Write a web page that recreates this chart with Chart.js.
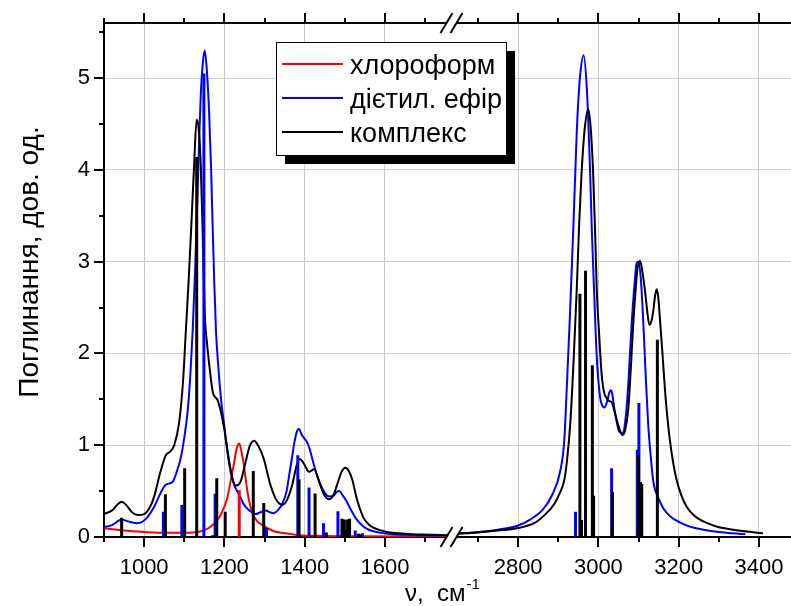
<!DOCTYPE html>
<html>
<head>
<meta charset="utf-8">
<script src="https://cdn.jsdelivr.net/npm/chart.js@4.4.1/dist/chart.umd.min.js"></script>
<style>
  html, body { margin: 0; padding: 0; background: #fff; }
  canvas { display: block; }
</style>
</head>
<body>
<canvas id="chart" width="791" height="606"></canvas>
<script>
// the x axis is broken: everything between BREAK_FROM and BREAK_FROM + BREAK_SHIFT is cut out
const BREAK_FROM = 1766;
const BREAK_SHIFT = 868;
const toAxis = v => (v > BREAK_FROM ? v - BREAK_SHIFT : v);

const xTickLabels = [1000, 1200, 1400, 1600, 2800, 3000, 3200, 3400];
const xMinorTicks = [900, 1100, 1300, 1500, 1700, 2700, 2900, 3100, 3300];
const yTickLabels = [0, 1, 2, 3, 4, 5];
const yMinorTicks = [0.5, 1.5, 2.5, 3.5, 4.5, 5.5];

const seriesNames = ['хлороформ', 'дієтил. ефір', 'комплекс'];
const seriesColors = ['#ff0000', '#0000ff', '#000000'];

// band contours (wavenumber, cm-1 / absorbance)
const chloroformNu = [900, 950, 1000, 1050, 1100, 1140, 1160, 1183, 1200, 1208, 1216, 1224, 1231, 1237, 1243, 1249, 1258, 1265, 1270, 1282, 1295, 1310, 1328, 1360, 1386, 1450, 1550, 1760,
  2645, 3000, 3480];
const chloroformA = [0.095, 0.07, 0.055, 0.045, 0.045, 0.06, 0.095, 0.185, 0.33, 0.44, 0.62, 0.8, 0.97, 1.02, 0.92, 0.77, 0.48, 0.33, 0.26, 0.17, 0.13, 0.09, 0.058, 0.035, 0.02, 0.012, 0.008, 0.005,
  0.005, 0.004, 0.003];

const etherNu = [900, 920, 944, 960, 984, 1005, 1025, 1040, 1054, 1071, 1082, 1092, 1100, 1108, 1115, 1121, 1127, 1133, 1137, 1141, 1146, 1151, 1156, 1162, 1167, 1171, 1175, 1179, 1185, 1191, 1200, 1208, 1216, 1224, 1237, 1249, 1262, 1278, 1290, 1303, 1313, 1323, 1335, 1345, 1355, 1361, 1368, 1374, 1380, 1386, 1392, 1399, 1405, 1411, 1418, 1424, 1434, 1444, 1452, 1461, 1472, 1480, 1486, 1494, 1503, 1515, 1528, 1545, 1561, 1590, 1619, 1680, 1740,
  2645, 2700, 2750, 2797, 2830, 2862, 2885, 2904, 2915, 2921, 2929, 2938, 2946, 2950, 2955, 2963, 2971, 2979, 2984, 2990, 2996, 3004, 3010, 3015, 3022, 3027, 3031, 3035, 3039, 3045, 3050, 3060, 3068, 3075, 3083, 3090, 3095, 3100, 3106, 3112, 3118, 3124, 3130, 3137, 3150, 3162, 3180, 3203, 3230, 3262, 3300, 3366];
const etherA = [0.11, 0.13, 0.19, 0.17, 0.15, 0.2, 0.33, 0.47, 0.57, 0.6, 0.72, 0.875, 1.08, 1.35, 1.75, 2.25, 2.9, 3.71, 4.3, 4.8, 5.15, 5.3, 5.1, 4.62, 4.0, 3.34, 2.75, 2.25, 1.85, 1.53, 1.2, 0.91, 0.7, 0.57, 0.46, 0.35, 0.29, 0.25, 0.27, 0.29, 0.27, 0.26, 0.3, 0.37, 0.5, 0.66, 0.85, 1.02, 1.14, 1.18, 1.12, 1.075, 1.04, 0.98, 0.87, 0.77, 0.63, 0.53, 0.47, 0.44, 0.45, 0.49, 0.5, 0.46, 0.4, 0.3, 0.2, 0.12, 0.076, 0.045, 0.03, 0.02, 0.015,
  0.035, 0.055, 0.08, 0.12, 0.19, 0.3, 0.46, 0.7, 1.05, 1.6, 2.4, 3.42, 4.4, 4.75, 5.05, 5.25, 4.9, 4.03, 3.3, 2.6, 1.96, 1.53, 1.43, 1.41, 1.48, 1.57, 1.6, 1.55, 1.42, 1.27, 1.17, 1.13, 1.3, 1.7, 2.33, 2.75, 2.98, 3.0, 2.8, 2.33, 1.75, 1.24, 0.9, 0.6, 0.42, 0.31, 0.22, 0.16, 0.11, 0.08, 0.055, 0.03];

const complexNu = [900, 920, 935, 944, 955, 970, 984, 1000, 1015, 1025, 1040, 1054, 1065, 1075, 1087, 1097, 1104, 1111, 1117, 1124, 1131, 1136, 1141, 1146, 1151, 1157, 1162, 1171, 1183, 1192, 1200, 1210, 1220, 1229, 1240, 1252, 1263, 1274, 1285, 1299, 1308, 1316, 1330, 1345, 1358, 1370, 1380, 1388, 1398, 1411, 1424, 1432, 1440, 1450, 1461, 1472, 1482, 1492, 1501, 1510, 1519, 1528, 1536, 1548, 1561, 1580, 1602, 1635, 1669, 1710, 1760,
  2645, 2700, 2750, 2797, 2840, 2871, 2890, 2904, 2915, 2922, 2930, 2938, 2946, 2952, 2958, 2966, 2975, 2981, 2987, 2992, 2996, 3002, 3008, 3014, 3021, 3027, 3033, 3040, 3046, 3053, 3060, 3067, 3075, 3081, 3087, 3093, 3097, 3104, 3110, 3116, 3122, 3127, 3132, 3137, 3141, 3145, 3149, 3153, 3160, 3166, 3172, 3178, 3186, 3195, 3207, 3220, 3237, 3253, 3275, 3294, 3350, 3410];
const complexA = [0.25, 0.29, 0.36, 0.385, 0.35, 0.27, 0.24, 0.25, 0.33, 0.44, 0.7, 0.89, 0.93, 1.0, 1.24, 1.7, 2.25, 2.8, 3.34, 4.0, 4.55, 4.45, 4.07, 3.3, 2.44, 2.1, 1.89, 1.58, 1.49, 1.35, 1.17, 0.88, 0.64, 0.56, 0.6, 0.8, 0.99, 1.05, 0.99, 0.84, 0.68, 0.55, 0.4, 0.35, 0.42, 0.585, 0.78, 0.85, 0.8, 0.71, 0.74, 0.66, 0.55, 0.45, 0.41, 0.46, 0.585, 0.71, 0.755, 0.72, 0.62, 0.45, 0.33, 0.2, 0.13, 0.085, 0.058, 0.04, 0.03, 0.025, 0.02,
  0.035, 0.05, 0.07, 0.095, 0.15, 0.26, 0.36, 0.48, 0.62, 0.84, 1.24, 1.9, 2.69, 3.4, 3.96, 4.45, 4.66, 4.45, 3.96, 3.3, 2.69, 2.2, 1.78, 1.58, 1.51, 1.48, 1.47, 1.37, 1.27, 1.17, 1.11, 1.17, 1.42, 1.85, 2.33, 2.7, 2.91, 3.01, 2.88, 2.69, 2.45, 2.31, 2.35, 2.47, 2.62, 2.7, 2.62, 2.4, 1.98, 1.6, 1.3, 1.06, 0.82, 0.62, 0.45, 0.33, 0.24, 0.19, 0.145, 0.115, 0.07, 0.04];

// calculated line positions and intensities
const chloroformLineNu = [1237];
const chloroformLineA = [0.51];
const etherLineNu = [1048, 1094, 1149, 1177, 1305, 1383, 1411, 1447, 1483, 1503, 1526, 1544, 2943, 3033, 3097, 3101];
const etherLineA = [0.275, 0.35, 5.05, 0.47, 0.1, 0.89, 0.54, 0.15, 0.28, 0.076, 0.07, 0.04, 0.275, 0.75, 0.95, 1.46];
const complexLineNu = [944, 1053, 1101, 1131, 1171, 1181, 1202, 1272, 1298, 1386, 1426, 1454, 1493, 1499, 1507, 1512, 1534, 1539, 2954, 2958, 2968, 2985, 2988, 3035, 3100, 3105, 3108, 3147];
const complexLineA = [0.21, 0.465, 0.75, 4.14, 0.02, 0.64, 0.275, 0.72, 0.37, 0.63, 0.475, 0.05, 0.2, 0.19, 0.19, 0.2, 0.035, 0.03, 2.65, 0.185, 2.9, 1.87, 0.45, 0.49, 0.89, 0.6, 0.58, 2.15];

function contour(nu, a) {
  const pts = [];
  nu.forEach((v, i) => {
    if (i > 0 && v - nu[i - 1] > 300) pts.push({ x: BREAK_FROM + 1, y: null });
    pts.push({ x: toAxis(v), y: a[i] });
  });
  return pts;
}

function sticks(nu, a) {
  const pts = [];
  nu.forEach((v, i) => {
    pts.push({ x: toAxis(v), y: 0 }, { x: toAxis(v), y: a[i] }, { x: toAxis(v), y: null });
  });
  return pts;
}

const FONT = 'Liberation Sans, Arial, sans-serif';

const framePlugin = {
  id: 'frame',
  afterDraw(chart) {
    const { ctx, chartArea: area, scales: { x, y } } = chart;
    ctx.save();
    ctx.strokeStyle = '#000';
    ctx.lineWidth = 2;

    // top axis line
    ctx.beginPath();
    ctx.moveTo(area.left - 1, area.top);
    ctx.lineTo(area.right, area.top);
    ctx.stroke();

    // tick marks, outward
    const tick = (px, len, vertical) => {
      ctx.beginPath();
      if (vertical) {
        ctx.moveTo(px, area.bottom); ctx.lineTo(px, area.bottom + len);
        ctx.moveTo(px, area.top); ctx.lineTo(px, area.top - len);
      } else {
        ctx.moveTo(area.left, px); ctx.lineTo(area.left - len, px);
      }
      ctx.stroke();
    };
    xTickLabels.forEach(v => tick(Math.round(x.getPixelForValue(toAxis(v))), 10, true));
    xMinorTicks.forEach(v => tick(Math.round(x.getPixelForValue(toAxis(v))), 5, true));
    yTickLabels.forEach(v => tick(Math.round(y.getPixelForValue(v)), 10, false));
    yMinorTicks.forEach(v => tick(Math.round(y.getPixelForValue(v)), 5, false));

    // break marks
    const bx = x.getPixelForValue(BREAK_FROM);
    [area.top, area.bottom].forEach(by => {
      ctx.fillStyle = '#fff';
      ctx.beginPath();
      ctx.moveTo(bx - 11, by + 10); ctx.lineTo(bx + 1, by - 10);
      ctx.lineTo(bx + 11, by - 10); ctx.lineTo(bx - 1, by + 10);
      ctx.closePath();
      ctx.fill();
      ctx.lineWidth = 2;
      ctx.beginPath();
      ctx.moveTo(bx - 11, by + 10); ctx.lineTo(bx + 1, by - 10);
      ctx.moveTo(bx - 1, by + 10); ctx.lineTo(bx + 11, by - 10);
      ctx.stroke();
    });

    // legend with drop shadow
    const lx = 276, ly = 42, lw = 230, lh = 113;
    ctx.fillStyle = '#000';
    ctx.fillRect(lx + 9, ly + 9, lw, lh);
    ctx.fillStyle = '#fff';
    ctx.fillRect(lx, ly, lw, lh);
    ctx.lineWidth = 1;
    ctx.strokeRect(lx + 0.5, ly + 0.5, lw, lh);
    ctx.font = '27px ' + FONT;
    ctx.textBaseline = 'alphabetic';
    ctx.textAlign = 'left';
    seriesNames.forEach((name, i) => {
      const ry = 64 + i * 34;
      ctx.strokeStyle = seriesColors[i];
      ctx.lineWidth = 2;
      ctx.beginPath();
      ctx.moveTo(282, ry); ctx.lineTo(343, ry);
      ctx.stroke();
      ctx.fillStyle = '#000';
      ctx.fillText(name, 350, ry + 10);
    });

    // axis titles
    ctx.fillStyle = '#000';
    ctx.font = '24px ' + FONT;
    ctx.fillText('\u03bd,  см', 405, 601);
    const w = ctx.measureText('\u03bd,  см').width;
    ctx.font = '15px ' + FONT;
    ctx.fillText('-1', 405 + w + 1, 589);

    ctx.translate(30, 262);
    ctx.rotate(-Math.PI / 2);
    ctx.font = '28px ' + FONT;
    ctx.textAlign = 'center';
    ctx.textBaseline = 'middle';
    ctx.fillText('Поглинання, дов. од.', 0, 0);
    ctx.restore();
  }
};

const curveStyle = { pointRadius: 0, borderWidth: 2, fill: false, cubicInterpolationMode: 'monotone', spanGaps: false };
const stickStyle = { pointRadius: 0, borderWidth: 3, fill: false, tension: 0, spanGaps: false, borderCapStyle: 'butt' };

new Chart(document.getElementById('chart'), {
  type: 'line',
  data: {
    datasets: [
      { label: seriesNames[2] + ' lines', data: sticks(complexLineNu, complexLineA), borderColor: seriesColors[2], order: 1, ...stickStyle },
      { label: seriesNames[1] + ' lines', data: sticks(etherLineNu, etherLineA), borderColor: seriesColors[1], order: 2, ...stickStyle },
      { label: seriesNames[0] + ' lines', data: sticks(chloroformLineNu, chloroformLineA), borderColor: seriesColors[0], order: 3, ...stickStyle },
      { label: seriesNames[2], data: contour(complexNu, complexA), borderColor: seriesColors[2], order: 4, ...curveStyle },
      { label: seriesNames[1], data: contour(etherNu, etherA), borderColor: seriesColors[1], order: 5, ...curveStyle },
      { label: seriesNames[0], data: contour(chloroformNu, chloroformA), borderColor: seriesColors[0], order: 6, ...curveStyle }
    ]
  },
  options: {
    responsive: false,
    devicePixelRatio: 1,
    animation: false,
    layout: { padding: { top: 23, left: 0, right: 0, bottom: 0 } },
    plugins: { legend: { display: false }, tooltip: { enabled: false } },
    scales: {
      x: {
        type: 'linear',
        min: 900,
        max: 3480 - BREAK_SHIFT,
        afterBuildTicks: scale => { scale.ticks = xTickLabels.map(v => ({ value: toAxis(v) })); },
        afterFit: scale => { scale.height = 69; scale.paddingLeft = 0; scale.paddingRight = 0; },
        grid: { color: '#cccccc', lineWidth: 1, drawTicks: false },
        border: { display: true, color: '#000', width: 2 },
        ticks: {
          padding: 18,
          maxRotation: 0,
          autoSkip: false,
          color: '#000',
          font: { family: FONT, size: 22 },
          callback: (value, index) => xTickLabels[index]
        }
      },
      y: {
        min: 0,
        max: 5.6,
        afterBuildTicks: scale => { scale.ticks = yTickLabels.map(v => ({ value: v })); },
        afterFit: scale => { scale.width = 104; scale.paddingTop = 0; scale.paddingBottom = 0; },
        grid: { color: '#cccccc', lineWidth: 1, drawTicks: false },
        border: { display: true, color: '#000', width: 2 },
        ticks: {
          padding: 14,
          color: '#000',
          font: { family: FONT, size: 22 },
          callback: (value, index) => yTickLabels[index]
        }
      }
    }
  },
  plugins: [framePlugin]
});
</script>
</body>
</html>
